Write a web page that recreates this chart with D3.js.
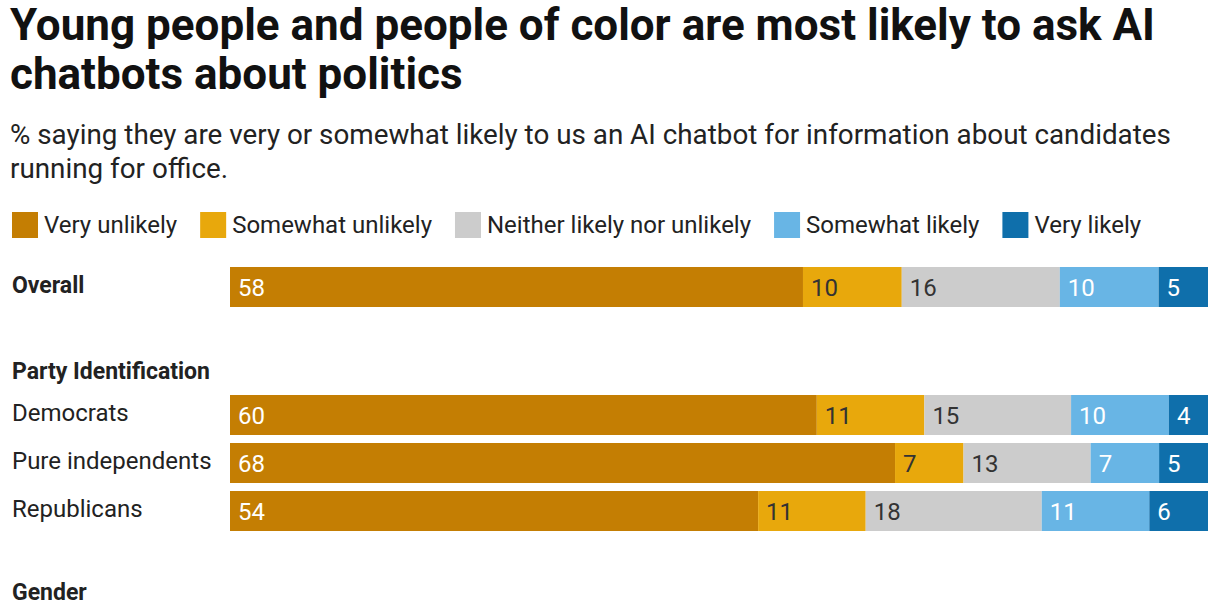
<html>
<head>
<script src="https://cdn.jsdelivr.net/npm/d3@7"></script>
<style>
  body { margin: 0; background: #fff; }
  text { font-family: Roboto, sans-serif; }
</style>
</head>
<body>
<div id="chart"></div>
<script>
// data
var categories = ["Very unlikely", "Somewhat unlikely", "Neither likely nor unlikely", "Somewhat likely", "Very likely"];
var colors = ["#c47e03", "#e8a80c", "#cccccc", "#68b5e5", "#0f6fab"];
var labelColors = ["#fff", "#333", "#333", "#fff", "#fff"];
var rowLabels = ["Overall", "Democrats", "Pure independents", "Republicans"];
var rowValues = [
  [58, 10, 16, 10, 5],
  [60, 11, 15, 10, 4],
  [68, 7, 13, 7, 5],
  [54, 11, 18, 11, 6]
];
var rowTops = [267, 395, 443, 491];
var groupHeaders = [{text: "Party Identification", y: 371}, {text: "Gender", y: 592}];

var width = 1218, height = 600;
var svg = d3.select("#chart").append("svg").attr("width", width).attr("height", height);

svg.append("text").attr("x", 10).attr("y", 40).attr("font-size", 44).attr("font-weight", 700)
  .attr("fill", "#111").text("Young people and people of color are most likely to ask AI");
svg.append("text").attr("x", 10).attr("y", 89).attr("font-size", 44).attr("font-weight", 700)
  .attr("fill", "#111").text("chatbots about politics");
svg.append("text").attr("x", 10).attr("y", 144).attr("font-size", 27.8).attr("fill", "#222")
  .text("% saying they are very or somewhat likely to us an AI chatbot for information about candidates");
svg.append("text").attr("x", 10).attr("y", 178).attr("font-size", 27.8).attr("fill", "#222")
  .text("running for office.");

// legend
var lx = 12;
categories.forEach(function (c, i) {
  svg.append("rect").attr("x", lx).attr("y", 212).attr("width", 26).attr("height", 26).attr("fill", colors[i]);
  var t = svg.append("text").attr("x", lx + 32).attr("y", 233).attr("font-size", 24).attr("fill", "#222").text(c);
  lx += 32 + t.node().getComputedTextLength() + 23;
});

groupHeaders.forEach(function (g) {
  svg.append("text").attr("x", 12).attr("y", g.y + 8).attr("font-size", 23).attr("font-weight", 700)
    .attr("fill", "#222").text(g.text);
});

var barH = 40;
rowValues.forEach(function (vals, r) {
  var total = d3.sum(vals);
  var x = d3.scaleLinear().domain([0, total]).range([230, 1208]);
  var y = rowTops[r];
  svg.append("text").attr("x", 12).attr("y", y + 26).attr("font-size", r === 0 ? 23 : 24)
    .attr("font-weight", r === 0 ? 700 : 400).attr("fill", "#222").text(rowLabels[r]);
  var acc = 0;
  vals.forEach(function (v, i) {
    svg.append("rect").attr("x", x(acc)).attr("y", y).attr("width", x(acc + v) - x(acc))
      .attr("height", barH).attr("fill", colors[i]);
    svg.append("text").attr("x", x(acc) + 8).attr("y", y + 29).attr("font-size", 24)
      .attr("fill", labelColors[i]).text(v);
    acc += v;
  });
});
</script>
</body>
</html>
